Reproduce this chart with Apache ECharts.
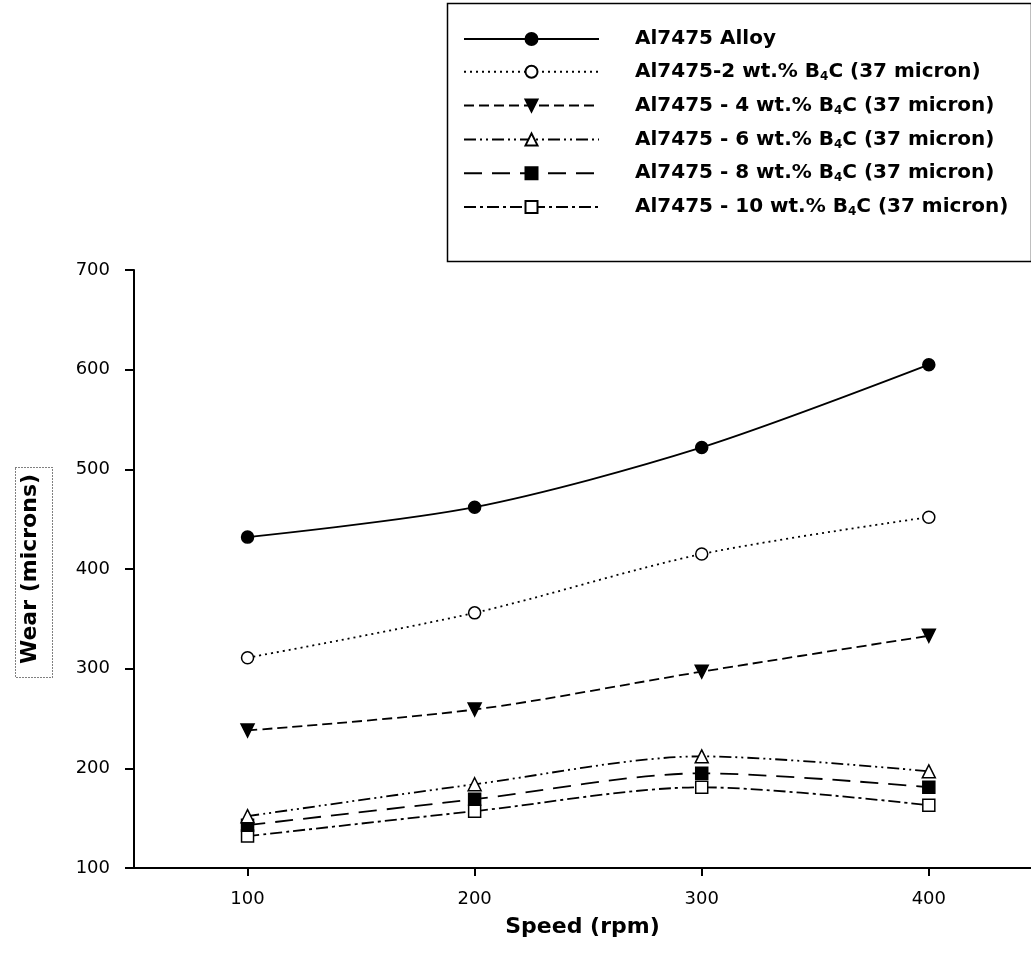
<!DOCTYPE html>
<html>
<head>
<meta charset="utf-8">
<script src="https://cdn.jsdelivr.net/npm/echarts@6/dist/echarts.min.js"></script>
<style>html,body{margin:0;padding:0;background:#fff}#c{width:1031px;height:967px}</style>
</head>
<body>
<div id="c"></div>
<script>
const speeds = [100, 200, 300, 400];
const xTicks = [100, 200, 300, 400];
const seriesNames = [
  'Al7475 Alloy',
  'Al7475-2 wt.% B4C (37 micron)',
  'Al7475 - 4 wt.% B4C (37 micron)',
  'Al7475 - 6 wt.% B4C (37 micron)',
  'Al7475 - 8 wt.% B4C (37 micron)',
  'Al7475 - 10 wt.% B4C (37 micron)'
];
const alloy = [432, 462, 522, 605];
const wt2 = [311, 356, 415, 452];
const wt4 = [238, 259, 297, 333];
const wt6 = [152, 184, 212, 197];
const wt8 = [143, 169, 195, 181];
const wt10 = [132, 157, 181, 163];

const FONT = '"DejaVu Sans", "Liberation Sans", Arial, sans-serif';
const styles = [
  {symbol: 'circle', size: 12, rot: 0, fill: '#000', dash: 'solid'},
  {symbol: 'circle', size: 12, rot: 0, fill: '#fff', dash: [2, 4]},
  {symbol: 'triangle', size: 13, rot: 180, fill: '#000', dash: [10, 5]},
  {symbol: 'triangle', size: 13, rot: 0, fill: '#fff', dash: [12, 4, 2, 4, 2, 4]},
  {symbol: 'rect', size: 12, rot: 0, fill: '#000', dash: [18, 10]},
  {symbol: 'rect', size: 12, rot: 0, fill: '#fff', dash: [12, 4, 3, 4]}
];
const values = [alloy, wt2, wt4, wt6, wt8, wt10];

const series = values.map((v, i) => ({
  name: seriesNames[i],
  type: 'line',
  smooth: 0.3,
  data: speeds.map((s, j) => [s, v[j]]),
  symbol: styles[i].symbol,
  symbolSize: styles[i].size,
  symbolRotate: styles[i].rot,
  showAllSymbol: true,
  z: 10 - i,
  lineStyle: {color: '#000', width: 1.8, type: styles[i].dash},
  itemStyle: {color: styles[i].fill, borderColor: '#000', borderWidth: 1.5, opacity: 1},
  emphasis: {disabled: true}
}));

const chart = echarts.init(document.getElementById('c'), null, {renderer: 'canvas'});
chart.setOption({
  animation: false,
  backgroundColor: '#fff',
  grid: {left: 134, right: 0, top: 270, bottom: 99},
  xAxis: {
    type: 'value', min: 50, max: 445,
    name: 'Speed (rpm)', nameLocation: 'middle', nameGap: 48,
    nameTextStyle: {fontFamily: FONT, fontSize: 22, fontWeight: 'bold', color: '#000'},
    axisLine: {lineStyle: {color: '#000', width: 2}},
    axisTick: {customValues: xTicks, length: 8, lineStyle: {color: '#000', width: 2}},
    axisLabel: {customValues: xTicks, margin: 22, fontFamily: FONT, fontSize: 18, color: '#000'},
    splitLine: {show: false}
  },
  yAxis: {
    type: 'value', min: 100, max: 700, interval: 100,
    name: 'Wear (microns)', nameLocation: 'middle', nameGap: 93,
    nameTextStyle: {fontFamily: FONT, fontSize: 22, fontWeight: 'bold', color: '#000'},
    axisLine: {show: true, lineStyle: {color: '#000', width: 2}},
    axisTick: {show: true, length: 9, lineStyle: {color: '#000', width: 2}},
    axisLabel: {margin: 24, fontFamily: FONT, fontSize: 18, color: '#000'},
    splitLine: {show: false}
  },
  legend: {
    orient: 'vertical', left: 463, top: 29, padding: 0,
    itemWidth: 135, itemHeight: 15, itemGap: 11.8,
    data: seriesNames,
    selectedMode: false,
    formatter: n => n.replace('B4C', 'B{sub|4}C'),
    textStyle: {
      fontFamily: FONT, fontSize: 20, fontWeight: 'bold', color: '#000',
      lineHeight: 20, padding: [0, 0, 0, 31],
      rich: {sub: {fontFamily: FONT, fontSize: 12, fontWeight: 'bold', color: '#000', lineHeight: 20, padding: [10, 0, 0, 0]}}
    }
  },
  graphic: [
    {type: 'rect', left: 445, top: 1, shape: {width: 584, height: 258},
     style: {fill: 'none', stroke: '#000', lineWidth: 1.5}, z: -1},
    {type: 'rect', left: 13, top: 465, shape: {width: 37, height: 210},
     style: {fill: 'none', stroke: '#000', lineWidth: 1, lineDash: [1, 2]}, z: -1}
  ],
  series: series
});
</script>
</body>
</html>
